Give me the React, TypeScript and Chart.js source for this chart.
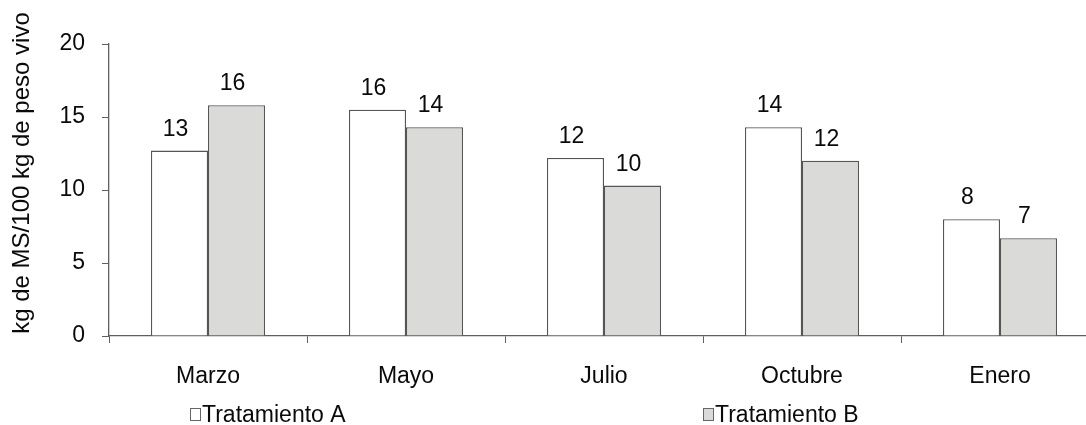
import React, { useEffect, useRef } from "react";
import { Chart, registerables } from "chart.js";

Chart.register(...registerables);

const categories = ["Marzo", "Mayo", "Julio", "Octubre", "Enero"];
const tratamientoA = [12.7, 15.5, 12.2, 14.3, 8.0];
const tratamientoB = [15.8, 14.3, 10.3, 12.0, 6.7];
const seriesNames = ["Tratamiento A", "Tratamiento B"];
const yTicks = [0, 5, 10, 15, 20];
const yTitle = "kg de MS/100 kg de peso vivo";

const FONT = "'Liberation Sans', Arial, sans-serif";
const FS = 23;
const AXIS_COLOR = "#5f5f5f";
const BAR_BORDER = "#555555";
const FILL_A = "#ffffff";
const FILL_B = "#dadbd9";

const overlayPlugin = {
  id: "overlay",
  afterDatasetsDraw(chart: any) {
    const ctx = chart.ctx;
    ctx.save();
    // data labels
    ctx.font = `${FS}px ${FONT}`;
    ctx.fillStyle = "#0a0a0a";
    ctx.textAlign = "center";
    ctx.textBaseline = "alphabetic";
    chart.data.datasets.forEach((ds: any, di: number) => {
      const meta = chart.getDatasetMeta(di);
      meta.data.forEach((el: any, i: number) => {
        ctx.fillText(String(Math.round(ds.data[i])), el.x - 4, el.y - 15);
      });
    });
    // y axis title
    ctx.save();
    ctx.translate(29, 173);
    ctx.rotate(-Math.PI / 2);
    ctx.textAlign = "center";
    ctx.textBaseline = "alphabetic";
    ctx.font = `${FS + 1}px ${FONT}`;
    ctx.fillText(yTitle, 0, 0);
    ctx.restore();
    // legend
    const items = [
      { x: 190, fill: FILL_A },
      { x: 703, fill: FILL_B },
    ];
    items.forEach((it, i) => {
      ctx.fillStyle = it.fill;
      ctx.fillRect(it.x + 0.5, 408.5, 10, 12);
      ctx.strokeStyle = "#666";
      ctx.lineWidth = 1;
      ctx.strokeRect(it.x + 0.5, 408.5, 10, 12);
      ctx.fillStyle = "#0a0a0a";
      ctx.textAlign = "left";
      ctx.font = `${FS}px ${FONT}`;
      ctx.fillText(seriesNames[i], it.x + 12, 422);
    });
    ctx.restore();
  },
};

export default function App() {
  const ref = useRef<HTMLCanvasElement | null>(null);
  useEffect(() => {
    if (!ref.current) return;
    const chart = new Chart(ref.current, {
      type: "bar",
      data: {
        labels: categories,
        datasets: [
          {
            label: seriesNames[0],
            data: tratamientoA,
            backgroundColor: FILL_A,
            borderColor: BAR_BORDER,
            borderWidth: 1.3,
            categoryPercentage: 0.576,
            barPercentage: 1,
          },
          {
            label: seriesNames[1],
            data: tratamientoB,
            backgroundColor: FILL_B,
            borderColor: BAR_BORDER,
            borderWidth: 1.3,
            categoryPercentage: 0.576,
            barPercentage: 1,
          },
        ],
      },
      options: {
        responsive: false,
        animation: false,
        layout: { padding: { left: 0, right: 11, top: 44, bottom: 0 } },
        plugins: {
          legend: { display: false },
          tooltip: { enabled: false },
          title: { display: false },
        },
        scales: {
          x: {
            grid: {
              display: true,
              drawOnChartArea: false,
              tickLength: 7,
              color: AXIS_COLOR,
              offset: true,
            },
            border: { color: AXIS_COLOR, width: 1.3 },
            ticks: {
              color: "#0a0a0a",
              font: { family: FONT, size: FS },
              padding: 20,
              maxRotation: 0,
            },
            afterFit: (s: any) => {
              s.height = 89;
            },
          },
          y: {
            min: 0,
            max: 20,
            afterBuildTicks: (s: any) => {
              s.ticks = yTicks.map((v) => ({ value: v }));
            },
            grid: {
              display: true,
              drawOnChartArea: false,
              tickLength: 7,
              color: AXIS_COLOR,
            },
            border: { color: AXIS_COLOR, width: 1.3 },
            ticks: {
              color: "#0a0a0a",
              font: { family: FONT, size: FS },
              padding: 17,
            },
            afterFit: (s: any) => {
              s.width = 109;
            },
          },
        },
      },
      plugins: [overlayPlugin],
    });
    return () => chart.destroy();
  }, []);
  return (
    <div
      style={{
        position: "fixed",
        left: 0,
        top: 0,
        width: 1086,
        height: 425,
        overflow: "hidden",
        background: "#fff",
      }}
    >
      <canvas ref={ref} width={1110} height={425} style={{ width: 1110, height: 425, display: "block" }} />
    </div>
  );
}
